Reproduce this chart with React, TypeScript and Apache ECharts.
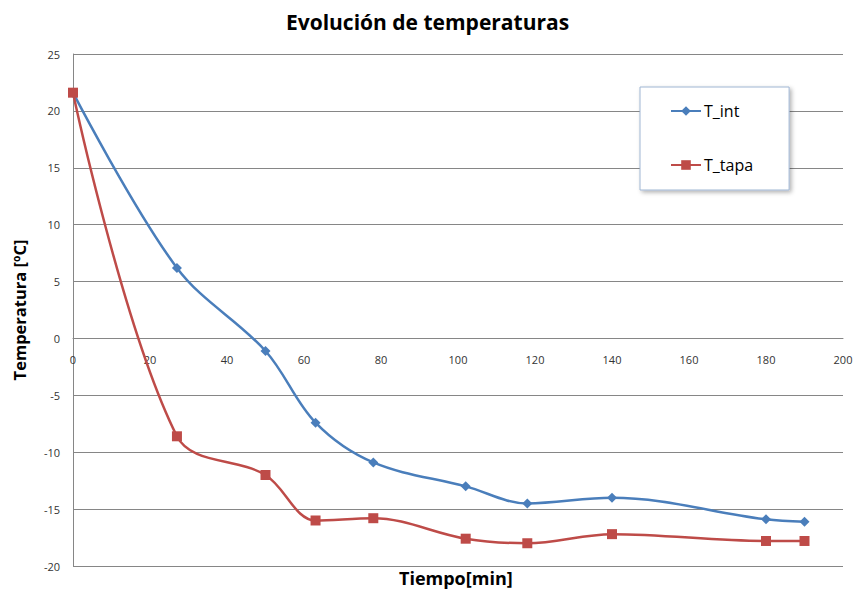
import React, { useEffect, useRef } from "react";
import * as echarts from "echarts";

const timeMin = [0, 27, 50, 63, 78, 102, 118, 140, 180, 190];
const tInt = [21.6, 6.2, -1.1, -7.4, -10.9, -13.0, -14.5, -14.0, -15.9, -16.1];
const tTapa = [21.6, -8.6, -12.0, -16.0, -15.8, -17.6, -18.0, -17.2, -17.8, -17.8];
const seriesNames = ["T_int", "T_tapa"];

const font = "'Open Sans', 'Liberation Sans', sans-serif";

const Y_MIN = -20;
const Y_MAX = 25;
const GRID_TOP = 54;
const GRID_BOTTOM = 29;
const CHART_H = 595;

export default function App() {
  const ref = useRef<HTMLDivElement>(null);
  useEffect(() => {
    if (!ref.current) return;
    const chart = echarts.init(ref.current, null, { renderer: "svg" });
    const pairs = (ys: number[]) => timeMin.map((x, i) => [x, ys[i]]);
    const plotH = CHART_H - GRID_TOP - GRID_BOTTOM;
    const zeroOffset = -(plotH * (0 - Y_MIN)) / (Y_MAX - Y_MIN);
    chart.setOption({
      animation: false,
      backgroundColor: "#ffffff",
      title: {
        text: "Evolución de temperaturas",
        left: "center",
        top: 6,
        textStyle: { fontFamily: font, fontSize: 21, fontWeight: "bold", color: "#000" },
      },
      legend: {
        orient: "vertical",
        left: 640,
        top: 87,
        padding: [16, 36, 17, 30],
        itemGap: 38,
        itemWidth: 30,
        itemHeight: 12,
        backgroundColor: "#fff",
        borderColor: "#9fb6d3",
        borderWidth: 1,
        shadowColor: "rgba(0,0,0,0.3)",
        shadowBlur: 4,
        shadowOffsetX: 2,
        shadowOffsetY: 2,
        textStyle: { fontFamily: font, fontSize: 16, color: "#000", padding: [0, 0, 0, -2] },
        data: seriesNames,
      },
      grid: { left: 73, right: 12, top: GRID_TOP, bottom: GRID_BOTTOM, containLabel: false, outerBoundsMode: "none" },
      graphic: [
        {
          type: "text",
          left: 399,
          top: 569,
          style: { text: "Tiempo[min]", fontFamily: font, fontSize: 18, fontWeight: "bold", fill: "#000" },
        },
      ],
      xAxis: {
        type: "value",
        min: 0,
        max: 200,
        interval: 20,
        position: "bottom",
        offset: zeroOffset,
        axisLine: { onZero: false, lineStyle: { color: "#868686" } },
        axisTick: { show: false },
        axisLabel: { margin: 16, fontFamily: font, fontSize: 11, color: "#333" },
        splitLine: { show: false },
      },
      yAxis: {
        type: "value",
        min: Y_MIN,
        max: Y_MAX,
        interval: 5,
        name: "Temperatura [ºC]",
        nameLocation: "middle",
        nameGap: 45,
        nameTextStyle: { fontFamily: font, fontSize: 16.5, fontWeight: "bold", color: "#000" },
        axisLine: { show: true, lineStyle: { color: "#868686" } },
        axisTick: { show: false },
        axisLabel: { margin: 13, fontFamily: font, fontSize: 11, color: "#333" },
        splitLine: { show: true, lineStyle: { color: "#868686", width: 1 } },
      },
      series: [
        {
          name: seriesNames[0],
          type: "line",
          data: pairs(tInt),
          smooth: 0.35,
          symbol: "diamond",
          symbolSize: 10,
          lineStyle: { width: 2.5, color: "#4a7ebb" },
          itemStyle: { color: "#4a7ebb" },
        },
        {
          name: seriesNames[1],
          type: "line",
          data: pairs(tTapa),
          smooth: 0.35,
          symbol: "rect",
          symbolSize: 10,
          lineStyle: { width: 2.5, color: "#be4b48" },
          itemStyle: { color: "#be4b48" },
        },
      ],
    });
    return () => chart.dispose();
  }, []);
  return <div ref={ref} style={{ width: 855, height: 595, position: "absolute", left: 0, top: 0 }} />;
}
